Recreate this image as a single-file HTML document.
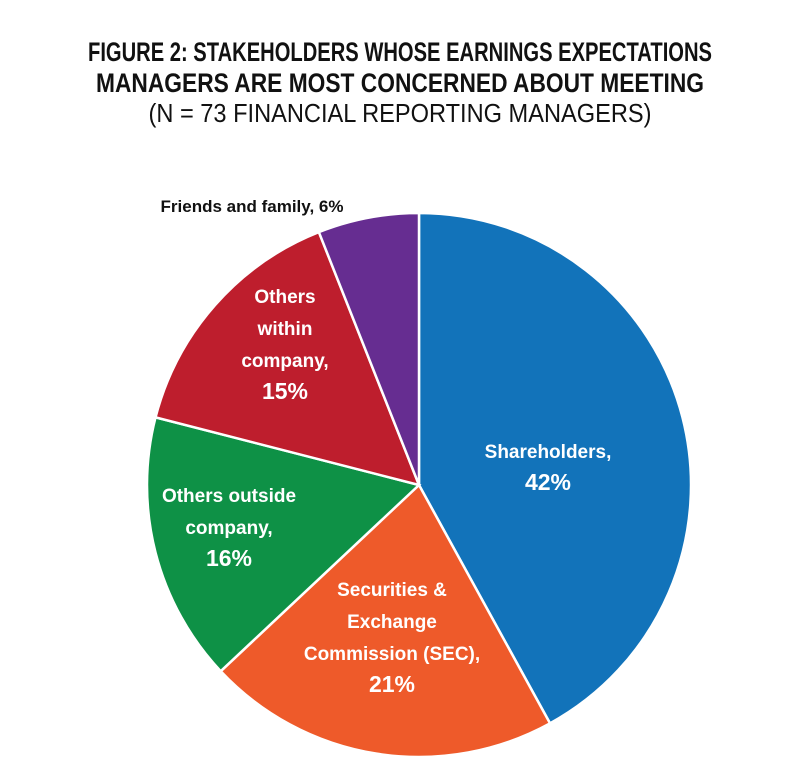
<!DOCTYPE html>
<html><head><meta charset="utf-8"><style>
body{margin:0;background:#fff;}
svg{display:block;font-family:"Liberation Sans",sans-serif;}
</style></head><body>
<svg width="800" height="784" viewBox="0 0 800 784">
<text x="400" y="61" text-anchor="middle" font-size="27" font-weight="bold" textLength="624" lengthAdjust="spacingAndGlyphs" fill="#111">FIGURE 2: STAKEHOLDERS WHOSE EARNINGS EXPECTATIONS</text>
<text x="400" y="92" text-anchor="middle" font-size="27" font-weight="bold" textLength="608" lengthAdjust="spacingAndGlyphs" fill="#111">MANAGERS ARE MOST CONCERNED ABOUT MEETING</text>
<text x="400" y="122" text-anchor="middle" font-size="26" textLength="503" lengthAdjust="spacingAndGlyphs" fill="#111">(N = 73 FINANCIAL REPORTING MANAGERS)</text>
<g id="slices"></g>
<g id="labels"></g>
</svg>
<script>
const categories=["Shareholders","Securities & Exchange Commission (SEC)","Others outside company","Others within company","Friends and family"];
const values=[42,21,16,15,6];
const colors=["#1273BA","#EE5A2A","#0E9146","#BE1E2D","#662D91"];
const cx=419,cy=485,r=272;
const ns="http://www.w3.org/2000/svg";
const total=values.reduce((a,b)=>a+b,0);
function pt(frac,rr){const a=frac*2*Math.PI;return [cx+rr*Math.sin(a),cy-rr*Math.cos(a)];}
const g=document.getElementById('slices');
let acc=0;
values.forEach((v,i)=>{
 const s=acc/total,e=(acc+v)/total;acc+=v;
 const [x1,y1]=pt(s,r),[x2,y2]=pt(e,r);
 const p=document.createElementNS(ns,'path');
 p.setAttribute('d',`M${cx},${cy}L${x1},${y1}A${r},${r} 0 ${(e-s)>0.5?1:0} 1 ${x2},${y2}Z`);
 p.setAttribute('fill',colors[i]);p.setAttribute('stroke','#fff');p.setAttribute('stroke-width','2.5');
 
 
 g.appendChild(p);
});
const labelLines=[["Shareholders,","42%"],["Securities &","Exchange","Commission (SEC),","21%"],["Others outside","company,","16%"],["Others","within","company,","15%"],["Friends and family, 6%"]];
const labelPos=[[548,458],[392,596],[229,502],[285,303],[252,212]];
const lg=document.getElementById('labels');
labelLines.forEach((lines,i)=>{
 const t=document.createElementNS(ns,'text');
 t.setAttribute('x',labelPos[i][0]);t.setAttribute('y',labelPos[i][1]);
 t.setAttribute('text-anchor','middle');t.setAttribute('font-weight','bold');
 t.setAttribute('fill',i===4?'#111':'#fff');
 
 
 lines.forEach((ln,j)=>{
  const ts=document.createElementNS(ns,'tspan');
  ts.setAttribute('x',labelPos[i][0]);ts.setAttribute('dy',j===0?0:32);
  const pct=/%$/.test(ln)&&i!==4;
  ts.setAttribute('font-size',i===4?17:(pct?23:19));
  ts.textContent=ln;
  
  
  t.appendChild(ts);
 });
 lg.appendChild(t);
});
</script>
</body></html>
